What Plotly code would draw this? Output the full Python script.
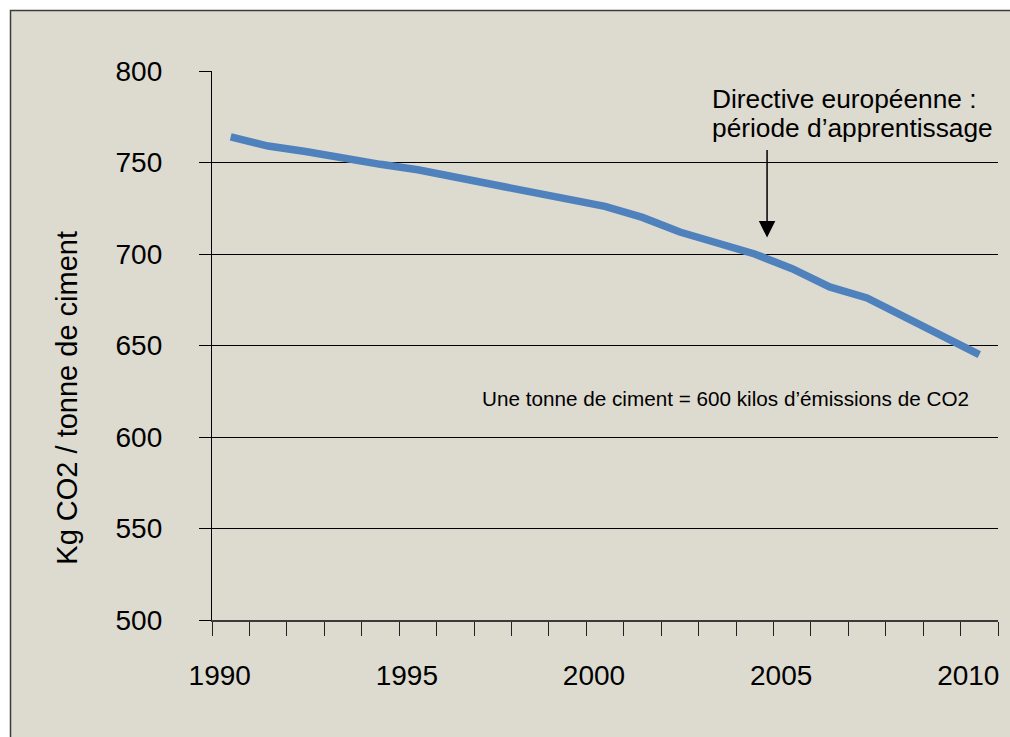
import plotly.graph_objects as go

# ---- data ----
years = list(range(1990, 2011))
co2_per_tonne = [764, 759, 756, 752, 749, 746, 742, 738, 734, 731, 726,
                 720, 712, 706, 700, 692, 682, 676, 666, 655, 645]
x_tick_vals = [1990, 1995, 2000, 2005, 2010]
x_tick_text = ["1990", "1995", "2000", "2005", "2010"]
y_tick_vals = [500, 550, 600, 650, 700, 750, 800]

y_title = "Kg CO2 / tonne de ciment"
note_directive = ["Directive européenne :", "période d’apprentissage"]
note_bottom = "Une tonne de ciment = 600 kilos d’émissions de CO2"
arrow_year = 2004.33
arrow_value = 709

FONT = "Liberation Sans, Arial, sans-serif"
BG = "#DDDAD0"

fig = go.Figure()
fig.add_trace(go.Scatter(
    x=years, y=co2_per_tonne, mode="lines",
    line=dict(color="#4F81BD", width=7.5),
    hoverinfo="x+y", showlegend=False,
))

W, H = 1010, 737
ml, mt = 212, 71
mr = W - 998
mb = H - 620
pw, ph = W - ml - mr, H - mt - mb

def px(xp):
    return (xp - ml) / pw

def py(yp):
    return (H - mb - yp) / ph

fig.update_layout(
    width=W, height=H,
    margin=dict(l=ml, r=mr, t=mt, b=mb, autoexpand=False),
    paper_bgcolor="white",
    plot_bgcolor="rgba(0,0,0,0)",
    font=dict(family=FONT, color="black"),
    showlegend=False,
    xaxis=dict(
        range=[1989.5, 2010.5],
        tickvals=x_tick_vals, ticktext=x_tick_text,
        ticks="", showgrid=False, zeroline=False,
        showline=True, linecolor="#3a3a3a", linewidth=1.5,
        tickfont=dict(size=28, family=FONT, color="black"),
        ticklabelshift=-11, ticklabelstandoff=30,
        minor=dict(ticks="outside", tick0=1989.5, dtick=1, ticklen=14,
                   tickcolor="#222", tickwidth=1.3, showgrid=False),
        fixedrange=True,
    ),
    yaxis=dict(
        range=[500, 800], tickvals=y_tick_vals,
        ticks="outside", ticklen=12, tickcolor="black", tickwidth=1,
        showgrid=True, gridcolor="black", gridwidth=1,
        zeroline=False, showline=True, linecolor="black", linewidth=1.3,
        tickfont=dict(size=28, family=FONT, color="black"),
        ticklabelstandoff=31,
        fixedrange=True,
    ),
    shapes=[
        dict(type="rect", xref="paper", yref="paper", layer="below",
             x0=px(10.5), x1=1.5, y0=-0.6, y1=py(10.5),
             line=dict(color="#3c3c3c", width=1.5), fillcolor=BG),
    ],
)

# y title (rotated)
fig.add_annotation(
    text=y_title, xref="paper", yref="paper",
    x=px(66.7), y=py(398), xanchor="center", yanchor="middle",
    textangle=-90, showarrow=False,
    font=dict(size=29, family=FONT, color="black"),
)

# directive text (two lines, left aligned)
for txt, yc in zip(note_directive, [99, 127.7]):
    fig.add_annotation(
        text=txt, xref="paper", yref="paper",
        x=px(709.5), y=py(yc), xanchor="left", yanchor="middle",
        showarrow=False, font=dict(size=26.3, family=FONT, color="black"),
    )

# arrow
fig.add_annotation(
    x=arrow_year, y=arrow_value, xref="x", yref="y",
    text="", showarrow=True, ax=0, ay=-89,
    arrowhead=2, arrowsize=2.2, arrowwidth=1.5, arrowcolor="black",
    standoff=0,
)

# bottom note
fig.add_annotation(
    text=note_bottom, xref="paper", yref="paper",
    x=px(480), y=py(398.7), xanchor="left", yanchor="middle",
    showarrow=False, font=dict(size=20.7, family=FONT, color="black"),
)

fig.write_html(
    "out.html",
    config={"displayModeBar": False},
    post_script="document.body.style.margin='0';"
                "document.documentElement.style.overflow='hidden';",
)
